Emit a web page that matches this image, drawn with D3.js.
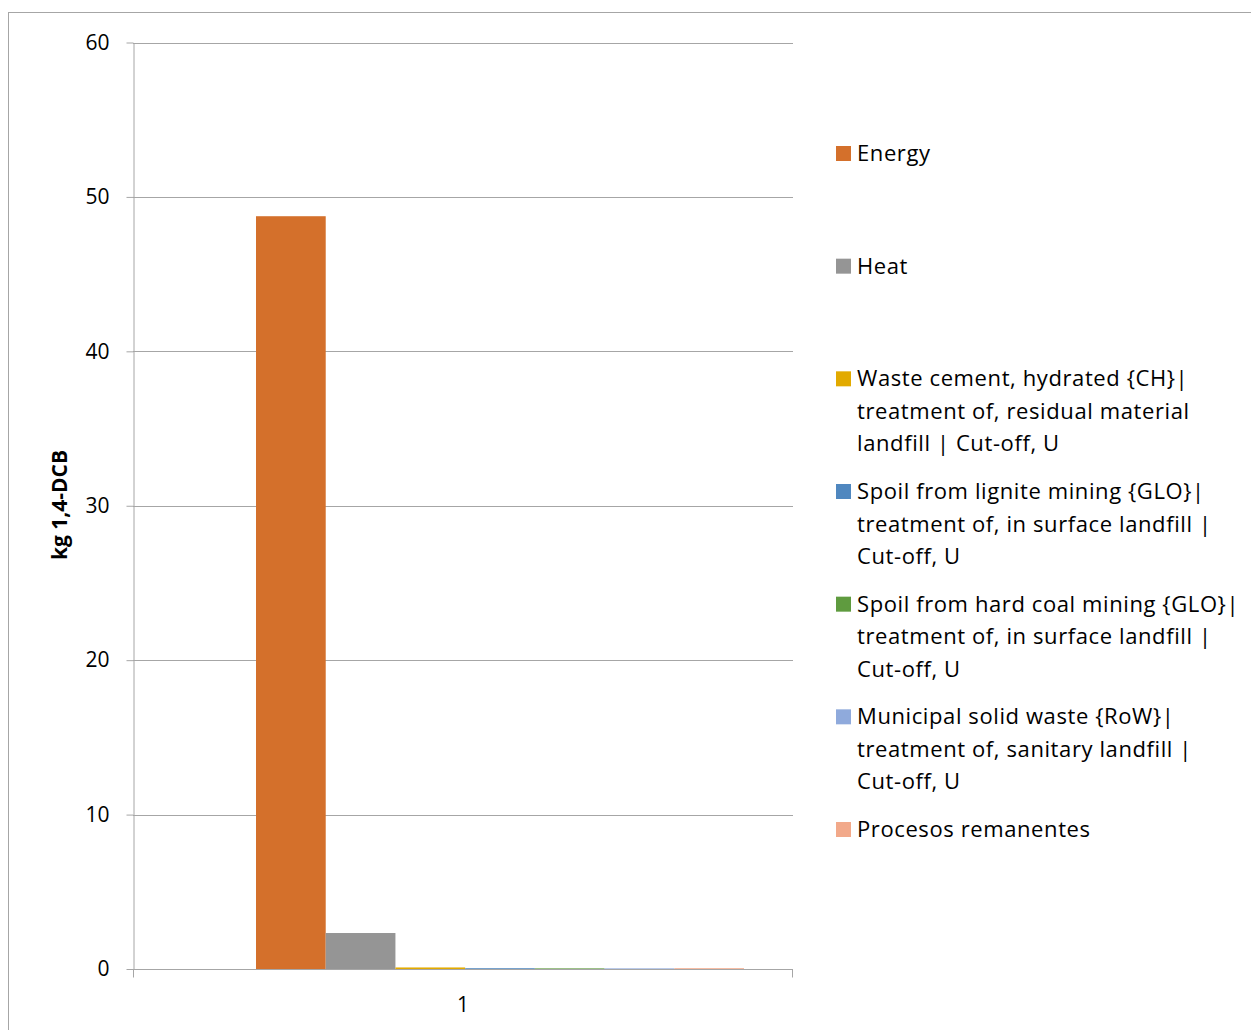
<!DOCTYPE html>
<html>
<head>
<meta charset="utf-8">
<script src="https://cdn.jsdelivr.net/npm/d3@7"></script>
<style>
  html, body { margin: 0; padding: 0; background: #fff; }
  svg { display: block; }
  text { font-family: "Open Sans", Lato, sans-serif; fill: #000; }
</style>
</head>
<body>
<svg id="chart" width="1251" height="1030"></svg>
<script>
// Toxicity contributions per process (kg 1,4-DCB eq.)
const categories = ["1"];
const seriesNames = [
  "Energy",
  "Heat",
  "Waste cement, hydrated {CH}| treatment of, residual material landfill | Cut-off, U",
  "Spoil from lignite mining {GLO}| treatment of, in surface landfill | Cut-off, U",
  "Spoil from hard coal mining {GLO}| treatment of, in surface landfill | Cut-off, U",
  "Municipal solid waste {RoW}| treatment of, sanitary landfill | Cut-off, U",
  "Procesos remanentes"
];
const seriesValues = [48.75, 2.33, 0.10, 0.05, 0.04, 0.04, 0.05];
const seriesColors = ["#D4702B", "#959595", "#E2AA00", "#4F87BF", "#5F9B3F", "#8FAADC", "#F2A98A"];
// Legend labels as wrapped lines
const legendLines = [
  ["Energy"],
  ["Heat"],
  ["Waste cement, hydrated {CH}|", "treatment of, residual material", "landfill | Cut-off, U"],
  ["Spoil from lignite mining {GLO}|", "treatment of, in surface landfill |", "Cut-off, U"],
  ["Spoil from hard coal mining {GLO}|", "treatment of, in surface landfill |", "Cut-off, U"],
  ["Municipal solid waste {RoW}|", "treatment of, sanitary landfill |", "Cut-off, U"],
  ["Procesos remanentes"]
];
const yTicks = [0, 10, 20, 30, 40, 50, 60];
const yTitle = "kg 1,4-DCB";

const svg = d3.select("#chart");
const axisColor = "#A6A6A6";
const font = "'Open Sans', Lato, sans-serif";

// chart area frame
svg.append("rect")
  .attr("x", 8.5).attr("y", 12.5)
  .attr("width", 1260).attr("height", 1040)
  .attr("fill", "#fff").attr("stroke", "#A6A6A6").attr("stroke-width", 1);

const plot = { left: 133, right: 793, top: 42.5, bottom: 969 };

const y = d3.scaleLinear().domain([0, 60]).range([plot.bottom, plot.top]);
const x0 = d3.scaleBand().domain(categories).range([plot.left, plot.right]);
const x1 = d3.scaleBand().domain(seriesNames).range([123, 611]);

// horizontal gridlines
svg.append("g")
  .selectAll("line")
  .data(yTicks.filter(t => t > 0))
  .join("line")
  .attr("x1", plot.left).attr("x2", plot.right)
  .attr("y1", d => Math.round(y(d)) + 0.5).attr("y2", d => Math.round(y(d)) + 0.5)
  .attr("stroke", axisColor).attr("stroke-width", 1);

// bars
const groups = svg.append("g")
  .selectAll("g")
  .data(categories)
  .join("g")
  .attr("transform", d => `translate(${x0(d)},0)`);

groups.selectAll("rect")
  .data(() => seriesNames.map((name, i) => ({ name, value: seriesValues[i], color: seriesColors[i] })))
  .join("rect")
  .attr("x", d => x1(d.name))
  .attr("width", x1.bandwidth())
  .attr("y", d => y(d.value))
  .attr("height", d => y(0) - y(d.value))
  .attr("fill", d => d.color);

// y axis
const yAxis = svg.append("g")
  .attr("transform", `translate(${plot.left + 0.5},0)`)
  .call(d3.axisLeft(y).tickValues(yTicks).tickSize(7).tickPadding(17).tickSizeOuter(0));
yAxis.select(".domain").attr("stroke", axisColor);
yAxis.selectAll(".tick line").attr("stroke", axisColor);
yAxis.selectAll(".tick text")
  .attr("font-family", font)
  .attr("font-size", 21).attr("fill", "#000");

// x axis
const xAxis = svg.append("g")
  .attr("transform", `translate(0,${Math.round(plot.bottom) + 0.5})`);
xAxis.append("line")
  .attr("x1", plot.left).attr("x2", plot.right)
  .attr("stroke", axisColor);
xAxis.selectAll(".bound")
  .data([plot.left + 0.5, plot.right - 0.5])
  .join("line")
  .attr("class", "bound")
  .attr("x1", d => d).attr("x2", d => d)
  .attr("y1", 0).attr("y2", 8)
  .attr("stroke", axisColor);
xAxis.selectAll("text")
  .data(categories)
  .join("text")
  .attr("x", d => x0(d) + x0.bandwidth() / 2)
  .attr("y", 42)
  .attr("text-anchor", "middle")
  .attr("font-size", 21)
  .text(d => d);

// y axis title
svg.append("text")
  .attr("transform", "translate(67,505) rotate(-90)")
  .attr("text-anchor", "middle")
  .attr("font-size", 21)
  .attr("font-weight", "bold")
  .text(yTitle);

// legend
const legendY = d3.scaleLinear().domain([0, seriesNames.length - 1]).range([161, 837]);
const legend = svg.append("g");
const items = legend.selectAll("g")
  .data(seriesNames)
  .join("g")
  .attr("transform", (d, i) => `translate(836,${legendY(i)})`);
items.append("rect")
  .attr("x", 0).attr("y", -15)
  .attr("width", 15).attr("height", 15)
  .attr("fill", (d, i) => seriesColors[i]);
items.append("text")
  .attr("x", 21).attr("y", 0)
  .attr("font-size", 22)
  .attr("letter-spacing", 0.6)
  .selectAll("tspan")
  .data((d, i) => legendLines[i])
  .join("tspan")
  .attr("x", 21)
  .attr("dy", (d, j) => j === 0 ? 0 : 32.5)
  .text(d => d);
</script>
</body>
</html>
